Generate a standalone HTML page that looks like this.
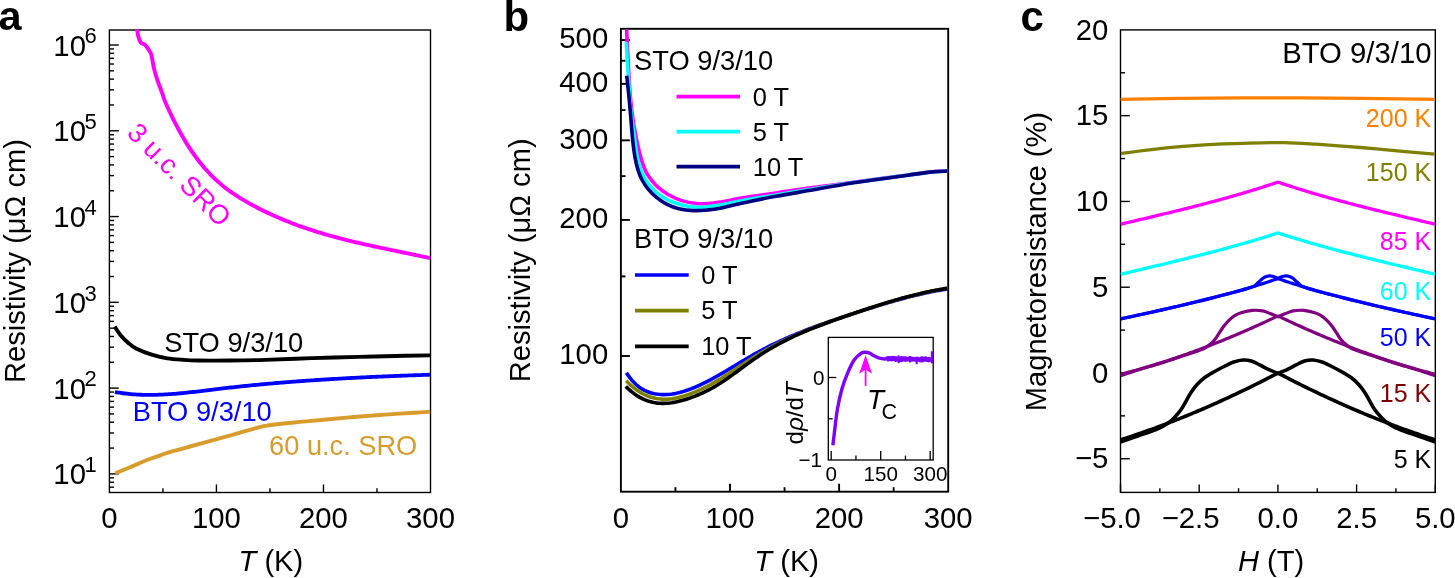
<!DOCTYPE html>
<html><head><meta charset="utf-8"><title>Figure</title>
<style>html,body{margin:0;padding:0;background:#fff;width:1455px;height:578px;overflow:hidden}
svg{display:block;font-family:"Liberation Sans",sans-serif;will-change:transform}</style></head>
<body>
<svg width="1455" height="578" viewBox="0 0 1455 578" font-family="Liberation Sans, sans-serif"><rect x="109.4" y="30" width="321.1" height="462.5" fill="none" stroke="#000" stroke-width="1.4"/>
<line x1="109.4" y1="487.19" x2="114" y2="487.19" stroke="#000" stroke-width="1.4"/>
<line x1="109.4" y1="482.21" x2="114" y2="482.21" stroke="#000" stroke-width="1.4"/>
<line x1="109.4" y1="477.83" x2="114" y2="477.83" stroke="#000" stroke-width="1.4"/>
<line x1="109.4" y1="473.9" x2="118.8" y2="473.9" stroke="#000" stroke-width="1.4"/>
<line x1="109.4" y1="448.08" x2="114" y2="448.08" stroke="#000" stroke-width="1.4"/>
<line x1="109.4" y1="432.97" x2="114" y2="432.97" stroke="#000" stroke-width="1.4"/>
<line x1="109.4" y1="422.26" x2="114" y2="422.26" stroke="#000" stroke-width="1.4"/>
<line x1="109.4" y1="413.94" x2="114" y2="413.94" stroke="#000" stroke-width="1.4"/>
<line x1="109.4" y1="407.15" x2="114" y2="407.15" stroke="#000" stroke-width="1.4"/>
<line x1="109.4" y1="401.41" x2="114" y2="401.41" stroke="#000" stroke-width="1.4"/>
<line x1="109.4" y1="396.43" x2="114" y2="396.43" stroke="#000" stroke-width="1.4"/>
<line x1="109.4" y1="392.05" x2="114" y2="392.05" stroke="#000" stroke-width="1.4"/>
<line x1="109.4" y1="388.12" x2="118.8" y2="388.12" stroke="#000" stroke-width="1.4"/>
<line x1="109.4" y1="362.3" x2="114" y2="362.3" stroke="#000" stroke-width="1.4"/>
<line x1="109.4" y1="347.19" x2="114" y2="347.19" stroke="#000" stroke-width="1.4"/>
<line x1="109.4" y1="336.48" x2="114" y2="336.48" stroke="#000" stroke-width="1.4"/>
<line x1="109.4" y1="328.16" x2="114" y2="328.16" stroke="#000" stroke-width="1.4"/>
<line x1="109.4" y1="321.37" x2="114" y2="321.37" stroke="#000" stroke-width="1.4"/>
<line x1="109.4" y1="315.63" x2="114" y2="315.63" stroke="#000" stroke-width="1.4"/>
<line x1="109.4" y1="310.65" x2="114" y2="310.65" stroke="#000" stroke-width="1.4"/>
<line x1="109.4" y1="306.27" x2="114" y2="306.27" stroke="#000" stroke-width="1.4"/>
<line x1="109.4" y1="302.34" x2="118.8" y2="302.34" stroke="#000" stroke-width="1.4"/>
<line x1="109.4" y1="276.52" x2="114" y2="276.52" stroke="#000" stroke-width="1.4"/>
<line x1="109.4" y1="261.41" x2="114" y2="261.41" stroke="#000" stroke-width="1.4"/>
<line x1="109.4" y1="250.7" x2="114" y2="250.7" stroke="#000" stroke-width="1.4"/>
<line x1="109.4" y1="242.38" x2="114" y2="242.38" stroke="#000" stroke-width="1.4"/>
<line x1="109.4" y1="235.59" x2="114" y2="235.59" stroke="#000" stroke-width="1.4"/>
<line x1="109.4" y1="229.85" x2="114" y2="229.85" stroke="#000" stroke-width="1.4"/>
<line x1="109.4" y1="224.87" x2="114" y2="224.87" stroke="#000" stroke-width="1.4"/>
<line x1="109.4" y1="220.49" x2="114" y2="220.49" stroke="#000" stroke-width="1.4"/>
<line x1="109.4" y1="216.56" x2="118.8" y2="216.56" stroke="#000" stroke-width="1.4"/>
<line x1="109.4" y1="190.74" x2="114" y2="190.74" stroke="#000" stroke-width="1.4"/>
<line x1="109.4" y1="175.63" x2="114" y2="175.63" stroke="#000" stroke-width="1.4"/>
<line x1="109.4" y1="164.92" x2="114" y2="164.92" stroke="#000" stroke-width="1.4"/>
<line x1="109.4" y1="156.6" x2="114" y2="156.6" stroke="#000" stroke-width="1.4"/>
<line x1="109.4" y1="149.81" x2="114" y2="149.81" stroke="#000" stroke-width="1.4"/>
<line x1="109.4" y1="144.07" x2="114" y2="144.07" stroke="#000" stroke-width="1.4"/>
<line x1="109.4" y1="139.09" x2="114" y2="139.09" stroke="#000" stroke-width="1.4"/>
<line x1="109.4" y1="134.71" x2="114" y2="134.71" stroke="#000" stroke-width="1.4"/>
<line x1="109.4" y1="130.78" x2="118.8" y2="130.78" stroke="#000" stroke-width="1.4"/>
<line x1="109.4" y1="104.96" x2="114" y2="104.96" stroke="#000" stroke-width="1.4"/>
<line x1="109.4" y1="89.85" x2="114" y2="89.85" stroke="#000" stroke-width="1.4"/>
<line x1="109.4" y1="79.14" x2="114" y2="79.14" stroke="#000" stroke-width="1.4"/>
<line x1="109.4" y1="70.82" x2="114" y2="70.82" stroke="#000" stroke-width="1.4"/>
<line x1="109.4" y1="64.03" x2="114" y2="64.03" stroke="#000" stroke-width="1.4"/>
<line x1="109.4" y1="58.29" x2="114" y2="58.29" stroke="#000" stroke-width="1.4"/>
<line x1="109.4" y1="53.31" x2="114" y2="53.31" stroke="#000" stroke-width="1.4"/>
<line x1="109.4" y1="48.93" x2="114" y2="48.93" stroke="#000" stroke-width="1.4"/>
<line x1="109.4" y1="45" x2="118.8" y2="45" stroke="#000" stroke-width="1.4"/>
<line x1="162.92" y1="492.5" x2="162.92" y2="488.3" stroke="#000" stroke-width="1.4"/>
<line x1="216.43" y1="492.5" x2="216.43" y2="484.5" stroke="#000" stroke-width="1.4"/>
<line x1="269.95" y1="492.5" x2="269.95" y2="488.3" stroke="#000" stroke-width="1.4"/>
<line x1="323.47" y1="492.5" x2="323.47" y2="484.5" stroke="#000" stroke-width="1.4"/>
<line x1="376.98" y1="492.5" x2="376.98" y2="488.3" stroke="#000" stroke-width="1.4"/>
<text x="85.95" y="484.4" font-size="29.3" fill="#000" text-anchor="end" >10</text>
<text x="84.5" y="472.2" font-size="22" fill="#000" text-anchor="start" >1</text>
<text x="85.95" y="398.62" font-size="29.3" fill="#000" text-anchor="end" >10</text>
<text x="84.5" y="386.42" font-size="22" fill="#000" text-anchor="start" >2</text>
<text x="85.95" y="312.84" font-size="29.3" fill="#000" text-anchor="end" >10</text>
<text x="84.5" y="300.64" font-size="22" fill="#000" text-anchor="start" >3</text>
<text x="85.95" y="227.06" font-size="29.3" fill="#000" text-anchor="end" >10</text>
<text x="84.5" y="214.86" font-size="22" fill="#000" text-anchor="start" >4</text>
<text x="85.95" y="141.28" font-size="29.3" fill="#000" text-anchor="end" >10</text>
<text x="84.5" y="129.08" font-size="22" fill="#000" text-anchor="start" >5</text>
<text x="85.95" y="55.5" font-size="29.3" fill="#000" text-anchor="end" >10</text>
<text x="84.5" y="43.3" font-size="22" fill="#000" text-anchor="start" >6</text>
<text x="109.4" y="527.8" font-size="29.3" fill="#000" text-anchor="middle" >0</text>
<text x="216.43" y="527.8" font-size="29.3" fill="#000" text-anchor="middle" >100</text>
<text x="323.47" y="527.8" font-size="29.3" fill="#000" text-anchor="middle" >200</text>
<text x="430.5" y="527.8" font-size="29.3" fill="#000" text-anchor="middle" >300</text>
<text x="270.9" y="570.5" font-size="29.1" text-anchor="middle" ><tspan font-style="italic">T</tspan> (K)</text>
<text transform="translate(24.7,261) rotate(-90)" font-size="29.1" text-anchor="middle">Resistivity (μΩ cm)</text>
<text x="-1.4" y="29.8" font-size="41.5" font-weight="bold">a</text>
<path d="M137,29.3 C137.22,30.48 137.67,34.17 138.3,36.4 C138.93,38.63 139.7,41.32 140.8,42.7 C141.9,44.08 143.68,43.67 144.9,44.7 C146.12,45.73 147.05,47.33 148.1,48.9 C149.15,50.47 150.42,51.85 151.2,54.1 C151.98,56.35 152.28,59.8 152.8,62.4 C153.32,65 153.53,66.75 154.3,69.7 C155.07,72.65 156.18,76.47 157.4,80.1 C158.62,83.73 160.37,88.04 161.6,91.5 C162.83,94.96 163.77,98.17 164.8,100.86 C165.83,103.56 166.8,105.46 167.8,107.68 C168.8,109.89 169.8,112.06 170.8,114.17 C171.8,116.28 172.8,118.33 173.8,120.34 C174.8,122.35 175.8,124.31 176.8,126.22 C177.8,128.13 178.8,129.99 179.8,131.8 C180.8,133.61 181.8,135.38 182.8,137.1 C183.8,138.82 184.8,140.49 185.8,142.12 C186.8,143.76 187.8,145.34 188.8,146.89 C189.8,148.44 190.8,149.94 191.8,151.4 C192.8,152.87 193.8,154.29 194.8,155.68 C195.8,157.06 196.8,158.41 197.8,159.72 C198.8,161.03 199.8,162.3 200.8,163.54 C201.8,164.78 202.8,165.98 203.8,167.15 C204.8,168.32 205.8,169.46 206.8,170.56 C207.8,171.67 208.8,172.74 209.8,173.78 C210.8,174.83 211.8,175.84 212.8,176.83 C213.8,177.81 214.8,178.77 215.8,179.7 C216.8,180.63 217.8,181.53 218.8,182.41 C219.8,183.29 220.8,184.15 221.8,184.98 C222.8,185.81 223.8,186.62 224.8,187.41 C225.8,188.2 226.8,188.96 227.8,189.71 C228.8,190.45 229.8,191.18 230.8,191.89 C231.8,192.6 232.8,193.29 233.8,193.96 C234.8,194.64 235.8,195.3 236.8,195.94 C237.8,196.59 238.8,197.21 239.8,197.83 C240.8,198.45 241.8,199.05 242.8,199.65 C243.8,200.24 244.8,200.82 245.8,201.4 C246.8,201.97 247.8,202.53 248.8,203.09 C249.8,203.64 250.8,204.19 251.8,204.73 C252.8,205.28 253.8,205.81 254.8,206.34 C255.8,206.87 256.8,207.39 257.8,207.91 C258.8,208.42 259.8,208.93 260.8,209.43 C261.8,209.93 262.8,210.43 263.8,210.92 C264.8,211.41 265.8,211.89 266.8,212.37 C267.8,212.85 268.8,213.32 269.8,213.78 C270.8,214.25 271.8,214.71 272.8,215.16 C273.8,215.61 274.8,216.06 275.8,216.5 C276.8,216.94 277.8,217.38 278.8,217.81 C279.8,218.24 280.8,218.66 281.8,219.08 C282.8,219.5 283.8,219.92 284.8,220.33 C285.8,220.73 286.8,221.14 287.8,221.54 C288.8,221.93 289.8,222.33 290.8,222.71 C291.8,223.1 292.8,223.49 293.8,223.86 C294.8,224.24 295.8,224.61 296.8,224.98 C297.8,225.35 298.8,225.72 299.8,226.07 C300.8,226.43 301.8,226.79 302.8,227.14 C303.8,227.49 304.8,227.83 305.8,228.17 C306.8,228.52 307.8,228.85 308.8,229.18 C309.8,229.52 310.8,229.85 311.8,230.17 C312.8,230.49 313.8,230.81 314.8,231.13 C315.8,231.45 316.8,231.76 317.8,232.07 C318.8,232.38 319.8,232.68 320.8,232.98 C321.8,233.29 322.8,233.58 323.8,233.88 C324.8,234.17 325.8,234.46 326.8,234.75 C327.8,235.04 328.8,235.32 329.8,235.6 C330.8,235.88 331.8,236.16 332.8,236.43 C333.8,236.71 334.8,236.98 335.8,237.25 C336.8,237.52 337.8,237.78 338.8,238.05 C339.8,238.31 340.8,238.57 341.8,238.83 C342.8,239.08 343.8,239.34 344.8,239.59 C345.8,239.84 346.8,240.09 347.8,240.34 C348.8,240.59 349.8,240.83 350.8,241.07 C351.8,241.31 352.8,241.56 353.8,241.79 C354.8,242.03 355.8,242.27 356.8,242.5 C357.8,242.74 358.8,242.97 359.8,243.2 C360.8,243.43 361.8,243.66 362.8,243.88 C363.8,244.11 364.8,244.34 365.8,244.56 C366.8,244.78 367.8,245 368.8,245.22 C369.8,245.45 370.8,245.66 371.8,245.88 C372.8,246.1 373.8,246.32 374.8,246.53 C375.8,246.75 376.8,246.96 377.8,247.17 C378.8,247.39 379.8,247.6 380.8,247.81 C381.8,248.02 382.8,248.23 383.8,248.44 C384.8,248.65 385.8,248.86 386.8,249.07 C387.8,249.28 388.8,249.49 389.8,249.69 C390.8,249.9 391.8,250.11 392.8,250.32 C393.8,250.52 394.8,250.73 395.8,250.94 C396.8,251.14 397.8,251.35 398.8,251.55 C399.8,251.76 400.8,251.97 401.8,252.17 C402.8,252.38 403.8,252.58 404.8,252.79 C405.8,253 406.8,253.2 407.8,253.41 C408.8,253.62 409.8,253.83 410.8,254.03 C411.8,254.24 412.8,254.45 413.8,254.66 C414.8,254.87 415.8,255.08 416.8,255.29 C417.8,255.5 418.8,255.71 419.8,255.93 C420.8,256.14 421.8,256.35 422.8,256.57 C423.8,256.78 424.8,257 425.8,257.21 C426.8,257.43 428.07,257.71 428.8,257.87 C429.53,258.03 429.97,258.12 430.2,258.17" fill="none" stroke="#FF00FF" stroke-width="3.9" stroke-linejoin="round" stroke-linecap="butt" />
<path d="M114.7,326.7 C115.68,328.12 118.32,332.48 120.6,335.2 C122.88,337.92 125.82,340.78 128.4,343 C130.98,345.22 132.22,346.55 136.1,348.5 C139.98,350.45 146.5,353.07 151.7,354.7 C156.9,356.33 162.12,357.45 167.3,358.3 C172.48,359.15 177.62,359.43 182.8,359.8 C187.98,360.17 190.62,360.38 198.4,360.5 C206.18,360.62 218.4,360.6 229.5,360.5 C240.6,360.4 251.3,360.3 265,359.9 C278.7,359.5 296.12,358.6 311.7,358.1 C327.28,357.6 342.92,357.28 358.5,356.9 C374.08,356.52 393.25,356.05 405.2,355.8 C417.15,355.55 426.03,355.47 430.2,355.4" fill="none" stroke="#000" stroke-width="3.9" stroke-linejoin="round" stroke-linecap="butt" />
<path d="M114.9,392.01 L116.9,392.35 L118.9,392.68 L120.9,392.97 L122.9,393.25 L124.9,393.5 L126.9,393.73 L128.9,393.93 L130.9,394.12 L132.9,394.28 L134.9,394.42 L136.9,394.55 L138.9,394.65 L140.9,394.73 L142.9,394.8 L144.9,394.85 L146.9,394.88 L148.9,394.89 L150.9,394.89 L152.9,394.87 L154.9,394.83 L156.9,394.79 L158.9,394.72 L160.9,394.65 L162.9,394.56 L164.9,394.45 L166.9,394.34 L168.9,394.21 L170.9,394.08 L172.9,393.93 L174.9,393.77 L176.9,393.61 L178.9,393.43 L180.9,393.25 L182.9,393.06 L184.9,392.86 L186.9,392.65 L188.9,392.44 L190.9,392.22 L192.9,392 L194.9,391.77 L196.9,391.54 L198.9,391.31 L200.9,391.07 L202.9,390.83 L204.9,390.59 L206.9,390.35 L208.9,390.1 L210.9,389.86 L212.9,389.62 L214.9,389.37 L216.9,389.13 L218.9,388.89 L220.9,388.65 L222.9,388.42 L224.9,388.19 L226.9,387.96 L228.9,387.73 L230.9,387.5 L232.9,387.28 L234.9,387.06 L236.9,386.85 L238.9,386.63 L240.9,386.42 L242.9,386.21 L244.9,386 L246.9,385.8 L248.9,385.6 L250.9,385.4 L252.9,385.2 L254.9,385 L256.9,384.81 L258.9,384.62 L260.9,384.43 L262.9,384.25 L264.9,384.06 L266.9,383.88 L268.9,383.7 L270.9,383.53 L272.9,383.35 L274.9,383.18 L276.9,383.01 L278.9,382.84 L280.9,382.67 L282.9,382.51 L284.9,382.35 L286.9,382.19 L288.9,382.03 L290.9,381.87 L292.9,381.72 L294.9,381.57 L296.9,381.41 L298.9,381.27 L300.9,381.12 L302.9,380.98 L304.9,380.83 L306.9,380.69 L308.9,380.55 L310.9,380.41 L312.9,380.28 L314.9,380.14 L316.9,380.01 L318.9,379.88 L320.9,379.75 L322.9,379.63 L324.9,379.5 L326.9,379.38 L328.9,379.25 L330.9,379.13 L332.9,379.01 L334.9,378.9 L336.9,378.78 L338.9,378.67 L340.9,378.55 L342.9,378.44 L344.9,378.33 L346.9,378.22 L348.9,378.12 L350.9,378.01 L352.9,377.91 L354.9,377.8 L356.9,377.7 L358.9,377.6 L360.9,377.5 L362.9,377.4 L364.9,377.31 L366.9,377.21 L368.9,377.12 L370.9,377.02 L372.9,376.93 L374.9,376.84 L376.9,376.75 L378.9,376.66 L380.9,376.58 L382.9,376.49 L384.9,376.41 L386.9,376.32 L388.9,376.24 L390.9,376.16 L392.9,376.07 L394.9,375.99 L396.9,375.91 L398.9,375.84 L400.9,375.76 L402.9,375.68 L404.9,375.61 L406.9,375.53 L408.9,375.46 L410.9,375.38 L412.9,375.31 L414.9,375.24 L416.9,375.17 L418.9,375.1 L420.9,375.03 L422.9,374.96 L424.9,374.89 L426.9,374.82 L428.9,374.76 L430.2,374.71" fill="none" stroke="#0000FF" stroke-width="3.8" stroke-linejoin="round" stroke-linecap="butt" />
<path d="M115.2,473.2 C117.28,472.37 123.73,469.83 127.7,468.2 C131.67,466.57 135.22,464.97 139,463.4 C142.78,461.83 146.62,460.23 150.4,458.8 C154.18,457.37 157.93,456.07 161.7,454.8 C165.47,453.53 168.28,452.58 173,451.2 C177.72,449.82 184.33,448.05 190,446.5 C195.67,444.95 201.33,443.45 207,441.9 C212.67,440.35 218.33,438.78 224,437.2 C229.67,435.62 235.83,433.87 241,432.4 C246.17,430.93 251.58,429.37 255,428.4 C258.42,427.43 259.5,427.07 261.5,426.6 C263.5,426.13 264.75,425.95 267,425.6 C269.25,425.25 270.83,424.98 275,424.5 C279.17,424.02 286.33,423.27 292,422.7 C297.67,422.13 302.38,421.72 309,421.1 C315.62,420.48 324.13,419.68 331.7,419 C339.27,418.32 346.83,417.63 354.4,417 C361.97,416.37 369.53,415.77 377.1,415.2 C384.67,414.63 393.48,414.02 399.8,413.6 C406.12,413.18 409.93,413 415,412.7 C420.07,412.4 427.67,411.95 430.2,411.8" fill="none" stroke="#D89C2C" stroke-width="3.9" stroke-linejoin="round" stroke-linecap="butt" />
<text x="164.2" y="351.5" font-size="27.3" fill="#000" text-anchor="start" >STO 9/3/10</text>
<text x="132.7" y="420.5" font-size="27.3" fill="#0000FF" text-anchor="start" >BTO 9/3/10</text>
<text x="269.1" y="454.8" font-size="27.2" fill="#D89C2C" text-anchor="start" >60 u.c. SRO</text>
<text transform="translate(125.7,134.2) rotate(45)" font-size="27.2" fill="#FF00FF">3 u.c. SRO</text>
<rect x="620.9" y="28.8" width="327.3" height="462.9" fill="none" stroke="#000" stroke-width="1.9"/>
<line x1="620.9" y1="356" x2="629.9" y2="356" stroke="#000" stroke-width="1.9"/>
<line x1="620.9" y1="276.41" x2="625.5" y2="276.41" stroke="#000" stroke-width="1.9"/>
<line x1="620.9" y1="219.93" x2="629.9" y2="219.93" stroke="#000" stroke-width="1.9"/>
<line x1="620.9" y1="176.13" x2="625.5" y2="176.13" stroke="#000" stroke-width="1.9"/>
<line x1="620.9" y1="140.34" x2="629.9" y2="140.34" stroke="#000" stroke-width="1.9"/>
<line x1="620.9" y1="110.08" x2="625.5" y2="110.08" stroke="#000" stroke-width="1.9"/>
<line x1="620.9" y1="83.87" x2="629.9" y2="83.87" stroke="#000" stroke-width="1.9"/>
<line x1="620.9" y1="60.75" x2="625.5" y2="60.75" stroke="#000" stroke-width="1.9"/>
<line x1="620.9" y1="40.07" x2="629.9" y2="40.07" stroke="#000" stroke-width="1.9"/>
<line x1="675.45" y1="491.7" x2="675.45" y2="487.2" stroke="#000" stroke-width="1.9"/>
<line x1="730" y1="491.7" x2="730" y2="483.7" stroke="#000" stroke-width="1.9"/>
<line x1="784.55" y1="491.7" x2="784.55" y2="487.2" stroke="#000" stroke-width="1.9"/>
<line x1="839.1" y1="491.7" x2="839.1" y2="483.7" stroke="#000" stroke-width="1.9"/>
<line x1="893.65" y1="491.7" x2="893.65" y2="487.2" stroke="#000" stroke-width="1.9"/>
<text x="608.2" y="364.4" font-size="29.3" fill="#000" text-anchor="end" >100</text>
<text x="608.2" y="228.33" font-size="29.3" fill="#000" text-anchor="end" >200</text>
<text x="608.2" y="148.74" font-size="29.3" fill="#000" text-anchor="end" >300</text>
<text x="608.2" y="92.27" font-size="29.3" fill="#000" text-anchor="end" >400</text>
<text x="608.2" y="48.47" font-size="29.3" fill="#000" text-anchor="end" >500</text>
<text x="620.9" y="527.8" font-size="29.3" fill="#000" text-anchor="middle" >0</text>
<text x="730" y="527.8" font-size="29.3" fill="#000" text-anchor="middle" >100</text>
<text x="839.1" y="527.8" font-size="29.3" fill="#000" text-anchor="middle" >200</text>
<text x="948.2" y="527.8" font-size="29.3" fill="#000" text-anchor="middle" >300</text>
<text x="786.7" y="570.5" font-size="29.1" text-anchor="middle"><tspan font-style="italic">T</tspan> (K)</text>
<text transform="translate(529.7,260.3) rotate(-90)" font-size="29.1" text-anchor="middle">Resistivity (μΩ cm)</text>
<text x="503.6" y="30.8" font-size="42" font-weight="bold">b</text>
<path d="M626.6,29.6 C626.72,32.17 626.97,38.27 627.3,45 C627.63,51.73 628.12,61.67 628.6,70 C629.08,78.33 629.63,88 630.2,95 C630.77,102 631.38,106.95 632,112 C632.62,117.05 632.97,119.85 633.9,125.3 C634.83,130.75 636.37,139.02 637.6,144.7 C638.83,150.38 639.95,154.98 641.3,159.4 C642.65,163.82 644.1,167.88 645.7,171.2 C647.3,174.52 648.82,176.6 650.9,179.3 C652.98,182 655.27,184.83 658.2,187.4 C661.13,189.97 664.57,192.5 668.5,194.7 C672.43,196.9 677.13,199.13 681.8,200.6 C686.47,202.07 692.1,203.02 696.5,203.5 C700.9,203.98 704.28,203.73 708.2,203.5 C712.12,203.27 714.2,203.03 720,202.1 C725.8,201.17 733.67,199.42 743,197.9 C752.33,196.38 765,194.65 776,193 C787,191.35 798,189.53 809,188 C820,186.47 831,185.23 842,183.8 C853,182.37 864.02,180.87 875,179.4 C885.98,177.93 898.28,176.27 907.9,175 C917.52,173.73 926.13,172.45 932.7,171.8 C939.27,171.15 944.87,171.22 947.3,171.1" fill="none" stroke="#FF00FF" stroke-width="3.6" stroke-linejoin="round" stroke-linecap="butt" />
<path d="M626.3,42 C626.45,45 626.77,52.97 627.2,60 C627.63,67.03 628.33,76.13 628.9,84.2 C629.47,92.27 629.82,100.6 630.6,108.4 C631.38,116.2 632.8,124.95 633.6,131 C634.4,137.05 634.73,139.97 635.4,144.7 C636.07,149.43 636.62,154.98 637.6,159.4 C638.58,163.82 639.95,167.77 641.3,171.2 C642.65,174.63 643.85,177.07 645.7,180 C647.55,182.93 649.58,185.98 652.4,188.8 C655.22,191.62 658.93,194.57 662.6,196.9 C666.27,199.23 669.98,201.2 674.4,202.8 C678.82,204.4 684.43,205.77 689.1,206.5 C693.77,207.23 697.25,207.45 702.4,207.2 C707.55,206.95 713.23,206.13 720,205 C726.77,203.87 733.67,202.07 743,200.4 C752.33,198.73 765,196.82 776,195 C787,193.18 798,191.3 809,189.5 C820,187.7 831,185.85 842,184.2 C853,182.55 864.02,181.12 875,179.6 C885.98,178.08 898.28,176.38 907.9,175.1 C917.52,173.82 926.13,172.57 932.7,171.9 C939.27,171.23 944.87,171.23 947.3,171.1" fill="none" stroke="#00FFFF" stroke-width="3.6" stroke-linejoin="round" stroke-linecap="butt" />
<path d="M626.7,75.7 C627.07,79.13 628.25,89.75 628.9,96.3 C629.55,102.85 630.12,109.38 630.6,115 C631.08,120.62 631.37,125.05 631.8,130 C632.23,134.95 632.6,139.8 633.2,144.7 C633.8,149.6 634.53,154.98 635.4,159.4 C636.27,163.82 637.28,167.77 638.4,171.2 C639.52,174.63 640.52,177.07 642.1,180 C643.68,182.93 645.45,185.87 647.9,188.8 C650.35,191.73 653.6,195.02 656.8,197.6 C660,200.18 663.43,202.45 667.1,204.3 C670.77,206.15 674.4,207.65 678.8,208.7 C683.2,209.75 688.6,210.4 693.5,210.6 C698.4,210.8 703.78,210.3 708.2,209.9 C712.62,209.5 714.2,209.37 720,208.2 C725.8,207.03 733.67,204.88 743,202.9 C752.33,200.92 765,198.37 776,196.3 C787,194.23 798,192.43 809,190.5 C820,188.57 831,186.48 842,184.7 C853,182.92 864.02,181.38 875,179.8 C885.98,178.22 898.28,176.52 907.9,175.2 C917.52,173.88 926.13,172.58 932.7,171.9 C939.27,171.22 944.87,171.23 947.3,171.1" fill="none" stroke="#000080" stroke-width="3.6" stroke-linejoin="round" stroke-linecap="butt" />
<path d="M626.4,372.73 L628.4,375.68 L630.4,378.35 L632.4,380.75 L634.4,382.89 L636.4,384.79 L638.4,386.46 L640.4,387.93 L642.4,389.2 L644.4,390.3 L646.4,391.24 L648.4,392.03 L650.4,392.69 L652.4,393.24 L654.4,393.69 L656.4,394.04 L658.4,394.31 L660.4,394.5 L662.4,394.6 L664.4,394.62 L666.4,394.57 L668.4,394.44 L670.4,394.24 L672.4,393.98 L674.4,393.65 L676.4,393.26 L678.4,392.81 L680.4,392.31 L682.4,391.76 L684.4,391.15 L686.4,390.5 L688.4,389.81 L690.4,389.07 L692.4,388.3 L694.4,387.48 L696.4,386.64 L698.4,385.75 L700.4,384.84 L702.4,383.89 L704.4,382.91 L706.4,381.91 L708.4,380.88 L710.4,379.82 L712.4,378.75 L714.4,377.65 L716.4,376.54 L718.4,375.4 L720.4,374.26 L722.4,373.1 L724.4,371.93 L726.4,370.74 L728.4,369.55 L730.4,368.36 L732.4,367.16 L734.4,365.96 L736.4,364.75 L738.4,363.55 L740.4,362.35 L742.4,361.15 L744.4,359.96 L746.4,358.78 L748.4,357.61 L750.4,356.45 L752.4,355.3 L754.4,354.17 L756.4,353.06 L758.4,351.96 L760.4,350.88 L762.4,349.81 L764.4,348.77 L766.4,347.74 L768.4,346.72 L770.4,345.72 L772.4,344.74 L774.4,343.77 L776.4,342.82 L778.4,341.88 L780.4,340.95 L782.4,340.04 L784.4,339.14 L786.4,338.25 L788.4,337.38 L790.4,336.52 L792.4,335.67 L794.4,334.83 L796.4,334 L798.4,333.18 L800.4,332.38 L802.4,331.58 L804.4,330.79 L806.4,330.01 L808.4,329.25 L810.4,328.49 L812.4,327.73 L814.4,326.99 L816.4,326.26 L818.4,325.53 L820.4,324.8 L822.4,324.09 L824.4,323.38 L826.4,322.68 L828.4,321.98 L830.4,321.29 L832.4,320.6 L834.4,319.92 L836.4,319.24 L838.4,318.56 L840.4,317.89 L842.4,317.22 L844.4,316.55 L846.4,315.89 L848.4,315.23 L850.4,314.57 L852.4,313.91 L854.4,313.25 L856.4,312.6 L858.4,311.95 L860.4,311.3 L862.4,310.65 L864.4,310.01 L866.4,309.37 L868.4,308.73 L870.4,308.1 L872.4,307.47 L874.4,306.85 L876.4,306.23 L878.4,305.61 L880.4,305 L882.4,304.4 L884.4,303.8 L886.4,303.2 L888.4,302.62 L890.4,302.03 L892.4,301.46 L894.4,300.89 L896.4,300.33 L898.4,299.77 L900.4,299.22 L902.4,298.68 L904.4,298.15 L906.4,297.62 L908.4,297.11 L910.4,296.6 L912.4,296.1 L914.4,295.6 L916.4,295.12 L918.4,294.65 L920.4,294.18 L922.4,293.73 L924.4,293.29 L926.4,292.85 L928.4,292.43 L930.4,292.02 L932.4,291.61 L934.4,291.22 L936.4,290.84 L938.4,290.47 L940.4,290.12 L942.4,289.77 L944.4,289.44 L946.4,289.12 L947.3,288.98" fill="none" stroke="#0000FF" stroke-width="3.6" stroke-linejoin="round" stroke-linecap="butt" />
<path d="M626.2,380.7 L628.2,382.77 L630.2,384.69 L632.2,386.47 L634.2,388.13 L636.2,389.65 L638.2,391.05 L640.2,392.32 L642.2,393.48 L644.2,394.51 L646.2,395.44 L648.2,396.25 L650.2,396.96 L652.2,397.56 L654.2,398.07 L656.2,398.48 L658.2,398.79 L660.2,399.02 L662.2,399.16 L664.2,399.21 L666.2,399.19 L668.2,399.09 L670.2,398.92 L672.2,398.68 L674.2,398.37 L676.2,398 L678.2,397.57 L680.2,397.09 L682.2,396.55 L684.2,395.97 L686.2,395.33 L688.2,394.66 L690.2,393.94 L692.2,393.18 L694.2,392.39 L696.2,391.55 L698.2,390.68 L700.2,389.77 L702.2,388.83 L704.2,387.85 L706.2,386.84 L708.2,385.8 L710.2,384.73 L712.2,383.62 L714.2,382.49 L716.2,381.34 L718.2,380.15 L720.2,378.95 L722.2,377.72 L724.2,376.46 L726.2,375.2 L728.2,373.91 L730.2,372.61 L732.2,371.31 L734.2,369.99 L736.2,368.67 L738.2,367.35 L740.2,366.02 L742.2,364.7 L744.2,363.38 L746.2,362.07 L748.2,360.77 L750.2,359.48 L752.2,358.21 L754.2,356.95 L756.2,355.72 L758.2,354.5 L760.2,353.31 L762.2,352.14 L764.2,350.98 L766.2,349.85 L768.2,348.74 L770.2,347.64 L772.2,346.56 L774.2,345.51 L776.2,344.46 L778.2,343.44 L780.2,342.43 L782.2,341.44 L784.2,340.47 L786.2,339.51 L788.2,338.57 L790.2,337.64 L792.2,336.73 L794.2,335.83 L796.2,334.94 L798.2,334.07 L800.2,333.2 L802.2,332.36 L804.2,331.52 L806.2,330.69 L808.2,329.88 L810.2,329.07 L812.2,328.28 L814.2,327.5 L816.2,326.72 L818.2,325.95 L820.2,325.2 L822.2,324.45 L824.2,323.71 L826.2,322.97 L828.2,322.24 L830.2,321.52 L832.2,320.81 L834.2,320.1 L836.2,319.39 L838.2,318.69 L840.2,318 L842.2,317.3 L844.2,316.61 L846.2,315.93 L848.2,315.25 L850.2,314.57 L852.2,313.89 L854.2,313.21 L856.2,312.54 L858.2,311.87 L860.2,311.2 L862.2,310.53 L864.2,309.87 L866.2,309.22 L868.2,308.56 L870.2,307.91 L872.2,307.27 L874.2,306.63 L876.2,305.99 L878.2,305.36 L880.2,304.74 L882.2,304.12 L884.2,303.5 L886.2,302.89 L888.2,302.29 L890.2,301.69 L892.2,301.11 L894.2,300.52 L896.2,299.95 L898.2,299.38 L900.2,298.82 L902.2,298.27 L904.2,297.72 L906.2,297.18 L908.2,296.65 L910.2,296.13 L912.2,295.62 L914.2,295.12 L916.2,294.63 L918.2,294.14 L920.2,293.67 L922.2,293.2 L924.2,292.75 L926.2,292.31 L928.2,291.87 L930.2,291.45 L932.2,291.04 L934.2,290.64 L936.2,290.25 L938.2,289.87 L940.2,289.51 L942.2,289.15 L944.2,288.81 L946.2,288.48 L947.3,288.31" fill="none" stroke="#808000" stroke-width="3.6" stroke-linejoin="round" stroke-linecap="butt" />
<path d="M625.8,386.41 L627.8,388.38 L629.8,390.2 L631.8,391.89 L633.8,393.44 L635.8,394.87 L637.8,396.17 L639.8,397.34 L641.8,398.4 L643.8,399.35 L645.8,400.19 L647.8,400.92 L649.8,401.54 L651.8,402.07 L653.8,402.51 L655.8,402.85 L657.8,403.1 L659.8,403.27 L661.8,403.36 L663.8,403.37 L665.8,403.31 L667.8,403.18 L669.8,402.98 L671.8,402.72 L673.8,402.4 L675.8,402.02 L677.8,401.59 L679.8,401.11 L681.8,400.59 L683.8,400.02 L685.8,399.42 L687.8,398.78 L689.8,398.1 L691.8,397.39 L693.8,396.65 L695.8,395.86 L697.8,395.04 L699.8,394.19 L701.8,393.3 L703.8,392.37 L705.8,391.4 L707.8,390.39 L709.8,389.35 L711.8,388.26 L713.8,387.14 L715.8,385.97 L717.8,384.77 L719.8,383.52 L721.8,382.24 L723.8,380.91 L725.8,379.56 L727.8,378.18 L729.8,376.77 L731.8,375.35 L733.8,373.9 L735.8,372.45 L737.8,370.98 L739.8,369.51 L741.8,368.04 L743.8,366.57 L745.8,365.1 L747.8,363.65 L749.8,362.2 L751.8,360.78 L753.8,359.37 L755.8,357.99 L757.8,356.64 L759.8,355.31 L761.8,354.02 L763.8,352.74 L765.8,351.5 L767.8,350.28 L769.8,349.08 L771.8,347.91 L773.8,346.76 L775.8,345.63 L777.8,344.53 L779.8,343.44 L781.8,342.38 L783.8,341.34 L785.8,340.32 L787.8,339.32 L789.8,338.33 L791.8,337.37 L793.8,336.42 L795.8,335.49 L797.8,334.58 L799.8,333.68 L801.8,332.8 L803.8,331.93 L805.8,331.08 L807.8,330.24 L809.8,329.42 L811.8,328.6 L813.8,327.8 L815.8,327.01 L817.8,326.23 L819.8,325.46 L821.8,324.7 L823.8,323.95 L825.8,323.21 L827.8,322.48 L829.8,321.75 L831.8,321.04 L833.8,320.32 L835.8,319.62 L837.8,318.92 L839.8,318.22 L841.8,317.53 L843.8,316.84 L845.8,316.15 L847.8,315.46 L849.8,314.78 L851.8,314.1 L853.8,313.42 L855.8,312.74 L857.8,312.07 L859.8,311.4 L861.8,310.73 L863.8,310.06 L865.8,309.4 L867.8,308.74 L869.8,308.08 L871.8,307.43 L873.8,306.78 L875.8,306.14 L877.8,305.5 L879.8,304.87 L881.8,304.24 L883.8,303.62 L885.8,303.01 L887.8,302.4 L889.8,301.79 L891.8,301.2 L893.8,300.61 L895.8,300.03 L897.8,299.45 L899.8,298.89 L901.8,298.33 L903.8,297.78 L905.8,297.23 L907.8,296.7 L909.8,296.18 L911.8,295.66 L913.8,295.16 L915.8,294.66 L917.8,294.18 L919.8,293.7 L921.8,293.24 L923.8,292.78 L925.8,292.34 L927.8,291.91 L929.8,291.49 L931.8,291.08 L933.8,290.69 L935.8,290.3 L937.8,289.93 L939.8,289.58 L941.8,289.23 L943.8,288.9 L945.8,288.59 L947.3,288.36" fill="none" stroke="#000" stroke-width="3.6" stroke-linejoin="round" stroke-linecap="butt" />
<text x="634.1" y="70.4" font-size="27.3" fill="#000" text-anchor="start" >STO 9/3/10</text>
<line x1="676.5" y1="96.6" x2="740" y2="96.6" stroke="#FF00FF" stroke-width="3.7"/>
<text x="752.8" y="105.6" font-size="25.4" fill="#000" text-anchor="start" >0 T</text>
<line x1="676.5" y1="131.6" x2="740" y2="131.6" stroke="#00FFFF" stroke-width="3.7"/>
<text x="752.8" y="140.6" font-size="25.4" fill="#000" text-anchor="start" >5 T</text>
<line x1="676.5" y1="166.6" x2="740" y2="166.6" stroke="#000080" stroke-width="3.7"/>
<text x="752.8" y="175.6" font-size="25.4" fill="#000" text-anchor="start" >10 T</text>
<text x="634.1" y="248" font-size="27.3" fill="#000" text-anchor="start" >BTO 9/3/10</text>
<line x1="635" y1="275" x2="688.7" y2="275" stroke="#0000FF" stroke-width="3.7"/>
<text x="701.2" y="283.7" font-size="25.4" fill="#000" text-anchor="start" >0 T</text>
<line x1="635" y1="310.65" x2="688.7" y2="310.65" stroke="#808000" stroke-width="3.7"/>
<text x="701.2" y="319.35" font-size="25.4" fill="#000" text-anchor="start" >5 T</text>
<line x1="635" y1="346.3" x2="688.7" y2="346.3" stroke="#000" stroke-width="3.7"/>
<text x="701.2" y="355" font-size="25.4" fill="#000" text-anchor="start" >10 T</text>
<rect x="828.3" y="337.4" width="104.9" height="122.6" fill="#fff" stroke="#000" stroke-width="1.3"/>
<line x1="831.2" y1="460" x2="831.2" y2="451" stroke="#000" stroke-width="1.3"/>
<line x1="855.95" y1="460" x2="855.95" y2="455.6" stroke="#000" stroke-width="1.3"/>
<line x1="880.7" y1="460" x2="880.7" y2="451" stroke="#000" stroke-width="1.3"/>
<line x1="905.45" y1="460" x2="905.45" y2="455.6" stroke="#000" stroke-width="1.3"/>
<line x1="930.2" y1="460" x2="930.2" y2="451" stroke="#000" stroke-width="1.3"/>
<line x1="828.3" y1="377.5" x2="836.3" y2="377.5" stroke="#000" stroke-width="1.3"/>
<line x1="828.3" y1="418.75" x2="832.7" y2="418.75" stroke="#000" stroke-width="1.3"/>
<text x="831.2" y="480.8" font-size="20.6" fill="#000" text-anchor="middle" >0</text>
<text x="880.7" y="480.8" font-size="20.6" fill="#000" text-anchor="middle" >150</text>
<text x="930.2" y="480.8" font-size="20.6" fill="#000" text-anchor="middle" >300</text>
<text x="824.5" y="384.8" font-size="20.6" fill="#000" text-anchor="end" >0</text>
<text x="822" y="466.5" font-size="20.6" fill="#000" text-anchor="end" >−1</text>
<text transform="translate(803.2,413.3) rotate(-90)" font-size="24.3" text-anchor="middle">d<tspan font-style="italic">ρ</tspan>/d<tspan font-style="italic">T</tspan></text>
<path d="M832.9,445.3 C833.17,443.05 833.75,437.8 834.5,431.8 C835.25,425.8 836.17,416.43 837.4,409.3 C838.63,402.17 840.22,395 841.9,389 C843.58,383 845.43,378.17 847.5,373.3 C849.57,368.43 852.05,363.13 854.3,359.8 C856.55,356.47 859.13,354.57 861,353.3 C862.87,352.03 864,352.2 865.5,352.2 C867,352.2 868.67,352.75 870,353.3 C871.33,353.85 872.2,354.78 873.5,355.5 C874.8,356.22 876.38,357.08 877.8,357.6 C879.22,358.12 880.63,358.37 882,358.6 C883.37,358.83 885.33,358.93 886,359" fill="none" stroke="#8000FF" stroke-width="3.4" stroke-linejoin="round" stroke-linecap="butt" />
<path d="M886,359 L886.7,358.65 L887.4,358.31 L888.1,359.32 L888.8,358.17 L889.5,359.1 L890.2,358.77 L890.9,358.16 L891.6,359.06 L892.3,358.13 L893,358.93 L893.7,358.21 L894.4,358.26 L895.1,358.93 L895.8,359.74 L896.5,358.34 L897.2,358.55 L897.9,359.36 L898.6,360.01 L899.3,359.27 L900,358.92 L900.7,360.08 L901.4,358.23 L902.1,359.86 L902.8,358.73 L903.5,358.44 L904.2,358.4 L904.9,358.78 L905.6,359.81 L906.3,358.54 L907,359.35 L907.7,359.47 L908.4,358.94 L909.1,359.3 L909.8,358.34 L910.5,358.34 L911.2,358.64 L911.9,359.59 L912.6,359.09 L913.3,358.87 L914,359.42 L914.7,359.16 L915.4,358.86 L916.1,359.86 L916.8,359.67 L917.5,358.77 L918.2,359.44 L918.9,359.34 L919.6,360.05 L920.3,359.76 L921,358.89 L921.7,360.28 L922.4,358.56 L923.1,359.17 L923.8,359.85 L924.5,358.65 L925.2,359.33 L925.9,358.43 L926.6,359.7 L927.3,359.9 L928,359.52 L928.7,360.13 L929.4,359.01 L930.1,359.78 L930.8,359.59 L931.5,359.56" fill="none" stroke="#8000FF" stroke-width="4.3" stroke-linejoin="round" stroke-linecap="butt" stroke-linecap="round"/>
<line x1="898.7" y1="355.3" x2="898.7" y2="363.2" stroke="#8000FF" stroke-width="2.0"/>
<line x1="916.7" y1="357.5" x2="916.7" y2="364.2" stroke="#8000FF" stroke-width="2.0"/>
<line x1="910" y1="356.5" x2="910" y2="362.5" stroke="#8000FF" stroke-width="2.0"/>
<line x1="931.9" y1="351.3" x2="931.9" y2="363.4" stroke="#8000FF" stroke-width="2.2"/>
<line x1="865.6" y1="386" x2="865.6" y2="362" stroke="#FF00FF" stroke-width="1.8"/>
<path d="M865.6,355 L872,373.8 L865.6,369.5 L859.2,373.8 Z" fill="#FF00FF"/>
<text x="867" y="409.3" font-size="27.8" font-style="italic">T</text>
<text x="881.5" y="419" font-size="21.5">C</text>
<rect x="1120.5" y="29.9" width="314.8" height="462.5" fill="none" stroke="#000" stroke-width="1.4"/>
<line x1="1120.5" y1="458.75" x2="1129.8" y2="458.75" stroke="#000" stroke-width="1.4"/>
<line x1="1120.5" y1="415.86" x2="1125.1" y2="415.86" stroke="#000" stroke-width="1.4"/>
<line x1="1120.5" y1="372.98" x2="1129.8" y2="372.98" stroke="#000" stroke-width="1.4"/>
<line x1="1120.5" y1="330.09" x2="1125.1" y2="330.09" stroke="#000" stroke-width="1.4"/>
<line x1="1120.5" y1="287.21" x2="1129.8" y2="287.21" stroke="#000" stroke-width="1.4"/>
<line x1="1120.5" y1="244.33" x2="1125.1" y2="244.33" stroke="#000" stroke-width="1.4"/>
<line x1="1120.5" y1="201.44" x2="1129.8" y2="201.44" stroke="#000" stroke-width="1.4"/>
<line x1="1120.5" y1="158.56" x2="1125.1" y2="158.56" stroke="#000" stroke-width="1.4"/>
<line x1="1120.5" y1="115.67" x2="1129.8" y2="115.67" stroke="#000" stroke-width="1.4"/>
<line x1="1120.5" y1="72.78" x2="1125.1" y2="72.78" stroke="#000" stroke-width="1.4"/>
<line x1="1120.5" y1="492.4" x2="1120.5" y2="484.4" stroke="#000" stroke-width="1.4"/>
<line x1="1159.85" y1="492.4" x2="1159.85" y2="488.2" stroke="#000" stroke-width="1.4"/>
<line x1="1199.2" y1="492.4" x2="1199.2" y2="484.4" stroke="#000" stroke-width="1.4"/>
<line x1="1238.55" y1="492.4" x2="1238.55" y2="488.2" stroke="#000" stroke-width="1.4"/>
<line x1="1277.9" y1="492.4" x2="1277.9" y2="484.4" stroke="#000" stroke-width="1.4"/>
<line x1="1317.25" y1="492.4" x2="1317.25" y2="488.2" stroke="#000" stroke-width="1.4"/>
<line x1="1356.6" y1="492.4" x2="1356.6" y2="484.4" stroke="#000" stroke-width="1.4"/>
<line x1="1395.95" y1="492.4" x2="1395.95" y2="488.2" stroke="#000" stroke-width="1.4"/>
<line x1="1435.3" y1="492.4" x2="1435.3" y2="484.4" stroke="#000" stroke-width="1.4"/>
<text x="1108.3" y="39.6" font-size="29.3" fill="#000" text-anchor="end" >20</text>
<text x="1108.3" y="125.37" font-size="29.3" fill="#000" text-anchor="end" >15</text>
<text x="1108.3" y="211.14" font-size="29.3" fill="#000" text-anchor="end" >10</text>
<text x="1108.3" y="296.91" font-size="29.3" fill="#000" text-anchor="end" >5</text>
<text x="1108.3" y="382.68" font-size="29.3" fill="#000" text-anchor="end" >0</text>
<text x="1108.3" y="468.45" font-size="29.3" fill="#000" text-anchor="end" >5</text>
<text x="1092" y="468.45" font-size="29.3" fill="#000" text-anchor="end" >−</text>
<text x="1120.5" y="527.8" font-size="29.3" fill="#000" text-anchor="middle" >5.0</text>
<text x="1100.2" y="527.8" font-size="29.3" fill="#000" text-anchor="end" >−</text>
<text x="1199.2" y="527.8" font-size="29.3" fill="#000" text-anchor="middle" >2.5</text>
<text x="1178.9" y="527.8" font-size="29.3" fill="#000" text-anchor="end" >−</text>
<text x="1277.9" y="527.8" font-size="29.3" fill="#000" text-anchor="middle" >0.0</text>
<text x="1356.6" y="527.8" font-size="29.3" fill="#000" text-anchor="middle" >2.5</text>
<text x="1435.3" y="527.8" font-size="29.3" fill="#000" text-anchor="middle" >5.0</text>
<text x="1271" y="570.5" font-size="29.1" text-anchor="middle"><tspan font-style="italic">H</tspan> (T)</text>
<text transform="translate(1046.4,261.6) rotate(-90)" font-size="29.1" text-anchor="middle">Magnetoresistance (%)</text>
<text x="1020.6" y="30.6" font-size="42" font-weight="bold">c</text>
<path d="M1120.6,99.3 C1130.83,99.15 1156.87,98.65 1182,98.4 C1207.13,98.15 1241.62,97.8 1271.4,97.8 C1301.18,97.8 1333.5,98.13 1360.7,98.4 C1387.9,98.67 1422.28,99.23 1434.6,99.4" fill="none" stroke="#FF8000" stroke-width="3.2" stroke-linejoin="round" stroke-linecap="butt" />
<path d="M1121,153.6 C1127.45,152.78 1145.82,150.15 1159.7,148.7 C1173.58,147.25 1189.42,145.83 1204.3,144.9 C1219.18,143.97 1235.58,143.48 1249,143.1 C1262.42,142.72 1273.63,142.42 1284.8,142.6 C1295.97,142.78 1303.35,143.38 1316,144.2 C1328.65,145.02 1345.8,146.27 1360.7,147.5 C1375.6,148.73 1393.08,150.5 1405.4,151.6 C1417.72,152.7 1429.73,153.68 1434.6,154.1" fill="none" stroke="#808000" stroke-width="3.3" stroke-linejoin="round" stroke-linecap="butt" />
<path d="M1120.8,224.17 C1121.47,224.01 1123.47,223.54 1124.8,223.23 C1126.13,222.91 1127.47,222.6 1128.8,222.28 C1130.13,221.97 1131.47,221.66 1132.8,221.34 C1134.13,221.03 1135.47,220.72 1136.8,220.4 C1138.13,220.09 1139.47,219.77 1140.8,219.46 C1142.13,219.15 1143.47,218.83 1144.8,218.52 C1146.13,218.2 1147.47,217.89 1148.8,217.57 C1150.13,217.25 1151.47,216.94 1152.8,216.62 C1154.13,216.3 1155.47,215.99 1156.8,215.67 C1158.13,215.35 1159.47,215.03 1160.8,214.71 C1162.13,214.39 1163.47,214.07 1164.8,213.75 C1166.13,213.43 1167.47,213.11 1168.8,212.79 C1170.13,212.46 1171.47,212.14 1172.8,211.81 C1174.13,211.49 1175.47,211.16 1176.8,210.83 C1178.13,210.51 1179.47,210.18 1180.8,209.85 C1182.13,209.52 1183.47,209.19 1184.8,208.86 C1186.13,208.52 1187.47,208.19 1188.8,207.85 C1190.13,207.52 1191.47,207.18 1192.8,206.84 C1194.13,206.51 1195.47,206.17 1196.8,205.82 C1198.13,205.48 1199.47,205.14 1200.8,204.79 C1202.13,204.45 1203.47,204.1 1204.8,203.75 C1206.13,203.4 1207.47,203.05 1208.8,202.7 C1210.13,202.35 1211.47,201.99 1212.8,201.64 C1214.13,201.28 1215.47,200.92 1216.8,200.56 C1218.13,200.2 1219.47,199.84 1220.8,199.47 C1222.13,199.1 1223.47,198.74 1224.8,198.37 C1226.13,198 1227.47,197.62 1228.8,197.25 C1230.13,196.87 1231.47,196.5 1232.8,196.12 C1234.13,195.74 1235.47,195.35 1236.8,194.97 C1238.13,194.58 1239.47,194.19 1240.8,193.8 C1242.13,193.41 1243.47,193.02 1244.8,192.62 C1246.13,192.22 1247.47,191.82 1248.8,191.42 C1250.13,191.02 1251.47,190.61 1252.8,190.2 C1254.13,189.79 1255.47,189.38 1256.8,188.97 C1258.13,188.55 1259.47,188.13 1260.8,187.71 C1262.13,187.29 1263.47,186.87 1264.8,186.44 C1266.13,186.01 1267.47,185.58 1268.8,185.14 C1270.13,184.71 1271.47,184.27 1272.8,183.82 C1274.13,183.38 1275.95,182.77 1276.8,182.49 C1277.65,182.2 1277.53,182.11 1277.9,182.11 C1278.27,182.11 1278.15,182.2 1279,182.49 C1279.85,182.77 1281.67,183.38 1283,183.82 C1284.33,184.27 1285.67,184.71 1287,185.14 C1288.33,185.58 1289.67,186.01 1291,186.44 C1292.33,186.87 1293.67,187.29 1295,187.71 C1296.33,188.13 1297.67,188.55 1299,188.97 C1300.33,189.38 1301.67,189.79 1303,190.2 C1304.33,190.61 1305.67,191.02 1307,191.42 C1308.33,191.82 1309.67,192.22 1311,192.62 C1312.33,193.02 1313.67,193.41 1315,193.8 C1316.33,194.19 1317.67,194.58 1319,194.97 C1320.33,195.35 1321.67,195.74 1323,196.12 C1324.33,196.5 1325.67,196.87 1327,197.25 C1328.33,197.62 1329.67,198 1331,198.37 C1332.33,198.74 1333.67,199.1 1335,199.47 C1336.33,199.84 1337.67,200.2 1339,200.56 C1340.33,200.92 1341.67,201.28 1343,201.64 C1344.33,201.99 1345.67,202.35 1347,202.7 C1348.33,203.05 1349.67,203.4 1351,203.75 C1352.33,204.1 1353.67,204.45 1355,204.79 C1356.33,205.14 1357.67,205.48 1359,205.82 C1360.33,206.17 1361.67,206.51 1363,206.84 C1364.33,207.18 1365.67,207.52 1367,207.85 C1368.33,208.19 1369.67,208.52 1371,208.86 C1372.33,209.19 1373.67,209.52 1375,209.85 C1376.33,210.18 1377.67,210.51 1379,210.83 C1380.33,211.16 1381.67,211.49 1383,211.81 C1384.33,212.14 1385.67,212.46 1387,212.79 C1388.33,213.11 1389.67,213.43 1391,213.75 C1392.33,214.07 1393.67,214.39 1395,214.71 C1396.33,215.03 1397.67,215.35 1399,215.67 C1400.33,215.99 1401.67,216.3 1403,216.62 C1404.33,216.94 1405.67,217.25 1407,217.57 C1408.33,217.89 1409.67,218.2 1411,218.52 C1412.33,218.83 1413.67,219.15 1415,219.46 C1416.33,219.77 1417.67,220.09 1419,220.4 C1420.33,220.72 1421.67,221.03 1423,221.34 C1424.33,221.66 1425.67,221.97 1427,222.28 C1428.33,222.6 1429.67,222.91 1431,223.23 C1432.33,223.54 1434.33,224.01 1435,224.17" fill="none" stroke="#FF00FF" stroke-width="3.3" stroke-linejoin="round" stroke-linecap="butt" />
<path d="M1120.8,274.28 C1121.47,274.12 1123.47,273.64 1124.8,273.33 C1126.13,273.01 1127.47,272.69 1128.8,272.37 C1130.13,272.06 1131.47,271.74 1132.8,271.42 C1134.13,271.11 1135.47,270.79 1136.8,270.47 C1138.13,270.16 1139.47,269.84 1140.8,269.53 C1142.13,269.21 1143.47,268.89 1144.8,268.58 C1146.13,268.26 1147.47,267.94 1148.8,267.63 C1150.13,267.31 1151.47,266.99 1152.8,266.68 C1154.13,266.36 1155.47,266.04 1156.8,265.72 C1158.13,265.4 1159.47,265.09 1160.8,264.77 C1162.13,264.45 1163.47,264.13 1164.8,263.81 C1166.13,263.49 1167.47,263.17 1168.8,262.84 C1170.13,262.52 1171.47,262.2 1172.8,261.88 C1174.13,261.55 1175.47,261.23 1176.8,260.91 C1178.13,260.58 1179.47,260.26 1180.8,259.93 C1182.13,259.6 1183.47,259.27 1184.8,258.94 C1186.13,258.62 1187.47,258.29 1188.8,257.95 C1190.13,257.62 1191.47,257.29 1192.8,256.96 C1194.13,256.62 1195.47,256.29 1196.8,255.95 C1198.13,255.62 1199.47,255.28 1200.8,254.94 C1202.13,254.6 1203.47,254.26 1204.8,253.92 C1206.13,253.57 1207.47,253.23 1208.8,252.88 C1210.13,252.54 1211.47,252.19 1212.8,251.84 C1214.13,251.49 1215.47,251.14 1216.8,250.79 C1218.13,250.43 1219.47,250.08 1220.8,249.72 C1222.13,249.37 1223.47,249.01 1224.8,248.65 C1226.13,248.29 1227.47,247.92 1228.8,247.56 C1230.13,247.19 1231.47,246.83 1232.8,246.46 C1234.13,246.09 1235.47,245.71 1236.8,245.34 C1238.13,244.97 1239.47,244.59 1240.8,244.21 C1242.13,243.83 1243.47,243.45 1244.8,243.06 C1246.13,242.68 1247.47,242.29 1248.8,241.9 C1250.13,241.51 1251.47,241.12 1252.8,240.73 C1254.13,240.33 1255.47,239.93 1256.8,239.53 C1258.13,239.13 1259.47,238.73 1260.8,238.32 C1262.13,237.92 1263.47,237.51 1264.8,237.09 C1266.13,236.68 1267.47,236.27 1268.8,235.85 C1270.13,235.43 1271.47,235.01 1272.8,234.58 C1274.13,234.16 1275.95,233.57 1276.8,233.3 C1277.65,233.02 1277.53,232.94 1277.9,232.94 C1278.27,232.94 1278.15,233.02 1279,233.3 C1279.85,233.57 1281.67,234.16 1283,234.58 C1284.33,235.01 1285.67,235.43 1287,235.85 C1288.33,236.27 1289.67,236.68 1291,237.09 C1292.33,237.51 1293.67,237.92 1295,238.32 C1296.33,238.73 1297.67,239.13 1299,239.53 C1300.33,239.93 1301.67,240.33 1303,240.73 C1304.33,241.12 1305.67,241.51 1307,241.9 C1308.33,242.29 1309.67,242.68 1311,243.06 C1312.33,243.45 1313.67,243.83 1315,244.21 C1316.33,244.59 1317.67,244.97 1319,245.34 C1320.33,245.71 1321.67,246.09 1323,246.46 C1324.33,246.83 1325.67,247.19 1327,247.56 C1328.33,247.92 1329.67,248.29 1331,248.65 C1332.33,249.01 1333.67,249.37 1335,249.72 C1336.33,250.08 1337.67,250.43 1339,250.79 C1340.33,251.14 1341.67,251.49 1343,251.84 C1344.33,252.19 1345.67,252.54 1347,252.88 C1348.33,253.23 1349.67,253.57 1351,253.92 C1352.33,254.26 1353.67,254.6 1355,254.94 C1356.33,255.28 1357.67,255.62 1359,255.95 C1360.33,256.29 1361.67,256.62 1363,256.96 C1364.33,257.29 1365.67,257.62 1367,257.95 C1368.33,258.29 1369.67,258.62 1371,258.94 C1372.33,259.27 1373.67,259.6 1375,259.93 C1376.33,260.26 1377.67,260.58 1379,260.91 C1380.33,261.23 1381.67,261.55 1383,261.88 C1384.33,262.2 1385.67,262.52 1387,262.84 C1388.33,263.17 1389.67,263.49 1391,263.81 C1392.33,264.13 1393.67,264.45 1395,264.77 C1396.33,265.09 1397.67,265.4 1399,265.72 C1400.33,266.04 1401.67,266.36 1403,266.68 C1404.33,266.99 1405.67,267.31 1407,267.63 C1408.33,267.94 1409.67,268.26 1411,268.58 C1412.33,268.89 1413.67,269.21 1415,269.53 C1416.33,269.84 1417.67,270.16 1419,270.47 C1420.33,270.79 1421.67,271.11 1423,271.42 C1424.33,271.74 1425.67,272.06 1427,272.37 C1428.33,272.69 1429.67,273.01 1431,273.33 C1432.33,273.64 1434.33,274.12 1435,274.28" fill="none" stroke="#00FFFF" stroke-width="3.3" stroke-linejoin="round" stroke-linecap="butt" />
<path d="M1120.8,318.8 C1124,318.13 1133.47,316.2 1140,314.8 C1146.53,313.4 1153.33,311.92 1160,310.4 C1166.67,308.88 1173.33,307.3 1180,305.7 C1186.67,304.1 1193.33,302.45 1200,300.8 C1206.67,299.15 1213.33,297.48 1220,295.8 C1226.67,294.12 1235,292.05 1240,290.7 C1245,289.35 1247.6,288.48 1250,287.7 C1252.4,286.92 1252.98,286.9 1254.4,286 C1255.82,285.1 1257.08,283.58 1258.5,282.3 C1259.92,281.02 1261.6,279.28 1262.9,278.3 C1264.2,277.32 1265.08,276.82 1266.3,276.4 C1267.52,275.98 1268.75,275.7 1270.2,275.8 C1271.65,275.9 1273.72,276.53 1275,277 C1276.28,277.47 1277.23,278.27 1277.9,278.6 C1278.57,278.93 1278.15,278.68 1279,278.97 C1279.85,279.26 1281.67,279.88 1283,280.33 C1284.33,280.78 1285.67,281.22 1287,281.66 C1288.33,282.1 1289.67,282.54 1291,282.97 C1292.33,283.4 1293.67,283.82 1295,284.25 C1296.33,284.67 1297.67,285.09 1299,285.5 C1300.33,285.91 1301.67,286.32 1303,286.73 C1304.33,287.13 1305.67,287.53 1307,287.93 C1308.33,288.33 1309.67,288.72 1311,289.11 C1312.33,289.5 1313.67,289.89 1315,290.27 C1316.33,290.65 1317.67,291.03 1319,291.41 C1320.33,291.78 1321.67,292.15 1323,292.52 C1324.33,292.89 1325.67,293.26 1327,293.62 C1328.33,293.98 1329.67,294.34 1331,294.7 C1332.33,295.05 1333.67,295.41 1335,295.76 C1336.33,296.11 1337.67,296.46 1339,296.8 C1340.33,297.15 1341.67,297.49 1343,297.83 C1344.33,298.17 1345.67,298.5 1347,298.84 C1348.33,299.17 1349.67,299.5 1351,299.83 C1352.33,300.16 1353.67,300.49 1355,300.82 C1356.33,301.14 1357.67,301.46 1359,301.79 C1360.33,302.11 1361.67,302.43 1363,302.74 C1364.33,303.06 1365.67,303.38 1367,303.69 C1368.33,304 1369.67,304.32 1371,304.63 C1372.33,304.94 1373.67,305.25 1375,305.55 C1376.33,305.86 1377.67,306.17 1379,306.47 C1380.33,306.78 1381.67,307.08 1383,307.38 C1384.33,307.68 1385.67,307.99 1387,308.29 C1388.33,308.59 1389.67,308.88 1391,309.18 C1392.33,309.48 1393.67,309.78 1395,310.08 C1396.33,310.37 1397.67,310.67 1399,310.96 C1400.33,311.26 1401.67,311.55 1403,311.85 C1404.33,312.14 1405.67,312.44 1407,312.73 C1408.33,313.03 1409.67,313.32 1411,313.61 C1412.33,313.91 1413.67,314.2 1415,314.49 C1416.33,314.79 1417.67,315.08 1419,315.37 C1420.33,315.67 1421.67,315.96 1423,316.25 C1424.33,316.55 1425.67,316.84 1427,317.14 C1428.33,317.43 1429.67,317.73 1431,318.02 C1432.33,318.32 1434.33,318.76 1435,318.91" fill="none" stroke="#0000FF" stroke-width="3.2" stroke-linejoin="round" stroke-linecap="butt" />
<path d="M1120.8,318.91 C1121.47,318.76 1123.47,318.32 1124.8,318.02 C1126.13,317.73 1127.47,317.43 1128.8,317.14 C1130.13,316.84 1131.47,316.55 1132.8,316.25 C1134.13,315.96 1135.47,315.67 1136.8,315.37 C1138.13,315.08 1139.47,314.79 1140.8,314.49 C1142.13,314.2 1143.47,313.91 1144.8,313.61 C1146.13,313.32 1147.47,313.03 1148.8,312.73 C1150.13,312.44 1151.47,312.14 1152.8,311.85 C1154.13,311.55 1155.47,311.26 1156.8,310.96 C1158.13,310.67 1159.47,310.37 1160.8,310.08 C1162.13,309.78 1163.47,309.48 1164.8,309.18 C1166.13,308.88 1167.47,308.59 1168.8,308.29 C1170.13,307.99 1171.47,307.68 1172.8,307.38 C1174.13,307.08 1175.47,306.78 1176.8,306.47 C1178.13,306.17 1179.47,305.86 1180.8,305.55 C1182.13,305.25 1183.47,304.94 1184.8,304.63 C1186.13,304.32 1187.47,304 1188.8,303.69 C1190.13,303.38 1191.47,303.06 1192.8,302.74 C1194.13,302.43 1195.47,302.11 1196.8,301.79 C1198.13,301.46 1199.47,301.14 1200.8,300.82 C1202.13,300.49 1203.47,300.16 1204.8,299.83 C1206.13,299.5 1207.47,299.17 1208.8,298.84 C1210.13,298.5 1211.47,298.17 1212.8,297.83 C1214.13,297.49 1215.47,297.15 1216.8,296.8 C1218.13,296.46 1219.47,296.11 1220.8,295.76 C1222.13,295.41 1223.47,295.05 1224.8,294.7 C1226.13,294.34 1227.47,293.98 1228.8,293.62 C1230.13,293.26 1231.47,292.89 1232.8,292.52 C1234.13,292.15 1235.47,291.78 1236.8,291.41 C1238.13,291.03 1239.47,290.65 1240.8,290.27 C1242.13,289.89 1243.47,289.5 1244.8,289.11 C1246.13,288.72 1247.47,288.33 1248.8,287.93 C1250.13,287.53 1251.47,287.13 1252.8,286.73 C1254.13,286.32 1255.47,285.91 1256.8,285.5 C1258.13,285.09 1259.47,284.67 1260.8,284.25 C1262.13,283.82 1263.47,283.4 1264.8,282.97 C1266.13,282.54 1267.47,282.1 1268.8,281.66 C1270.13,281.22 1271.47,280.78 1272.8,280.33 C1274.13,279.88 1275.95,279.26 1276.8,278.97 C1277.65,278.68 1277.23,278.93 1277.9,278.6 C1278.57,278.27 1279.52,277.47 1280.8,277 C1282.08,276.53 1284.15,275.9 1285.6,275.8 C1287.05,275.7 1288.28,275.98 1289.5,276.4 C1290.72,276.82 1291.6,277.32 1292.9,278.3 C1294.2,279.28 1295.88,281.02 1297.3,282.3 C1298.72,283.58 1299.98,285.1 1301.4,286 C1302.82,286.9 1303.4,286.92 1305.8,287.7 C1308.2,288.48 1310.8,289.35 1315.8,290.7 C1320.8,292.05 1329.13,294.12 1335.8,295.8 C1342.47,297.48 1349.13,299.15 1355.8,300.8 C1362.47,302.45 1369.13,304.1 1375.8,305.7 C1382.47,307.3 1389.13,308.88 1395.8,310.4 C1402.47,311.92 1409.27,313.4 1415.8,314.8 C1422.33,316.2 1431.8,318.13 1435,318.8" fill="none" stroke="#0000FF" stroke-width="3.2" stroke-linejoin="round" stroke-linecap="butt" />
<path d="M1120.8,375.7 C1123.78,374.72 1132.25,371.82 1138.7,369.8 C1145.15,367.78 1152.58,365.77 1159.5,363.6 C1166.42,361.43 1173.28,359.12 1180.2,356.8 C1187.12,354.48 1196.7,351.28 1201,349.7 C1205.3,348.12 1204.37,348.28 1206,347.3 C1207.63,346.32 1209.32,345.1 1210.8,343.8 C1212.28,342.5 1213.52,341.27 1214.9,339.5 C1216.28,337.73 1217.72,335.28 1219.1,333.2 C1220.48,331.12 1221.65,329.07 1223.2,327 C1224.75,324.93 1226.48,322.7 1228.4,320.8 C1230.32,318.9 1232.45,316.98 1234.7,315.6 C1236.95,314.22 1238.97,313.37 1241.9,312.5 C1244.83,311.63 1248.83,310.67 1252.3,310.4 C1255.77,310.13 1259.75,310.38 1262.7,310.9 C1265.65,311.42 1267.48,312.55 1270,313.5 C1272.52,314.45 1276.3,316.11 1277.8,316.6 C1279.3,317.09 1278.13,316.17 1279,316.46 C1279.87,316.75 1281.67,317.73 1283,318.36 C1284.33,318.99 1285.67,319.62 1287,320.24 C1288.33,320.87 1289.67,321.49 1291,322.11 C1292.33,322.72 1293.67,323.34 1295,323.95 C1296.33,324.56 1297.67,325.16 1299,325.76 C1300.33,326.37 1301.67,326.97 1303,327.56 C1304.33,328.16 1305.67,328.75 1307,329.34 C1308.33,329.93 1309.67,330.51 1311,331.09 C1312.33,331.67 1313.67,332.25 1315,332.83 C1316.33,333.4 1317.67,333.97 1319,334.54 C1320.33,335.1 1321.67,335.67 1323,336.23 C1324.33,336.79 1325.67,337.34 1327,337.9 C1328.33,338.45 1329.67,339 1331,339.54 C1332.33,340.09 1333.67,340.63 1335,341.16 C1336.33,341.7 1337.67,342.24 1339,342.77 C1340.33,343.3 1341.67,343.82 1343,344.34 C1344.33,344.87 1345.67,345.39 1347,345.9 C1348.33,346.42 1349.67,346.93 1351,347.43 C1352.33,347.94 1353.67,348.45 1355,348.95 C1356.33,349.44 1357.67,349.94 1359,350.43 C1360.33,350.93 1361.67,351.41 1363,351.9 C1364.33,352.38 1365.67,352.86 1367,353.34 C1368.33,353.82 1369.67,354.29 1371,354.76 C1372.33,355.23 1373.67,355.69 1375,356.15 C1376.33,356.62 1377.67,357.07 1379,357.53 C1380.33,357.98 1381.67,358.43 1383,358.88 C1384.33,359.32 1385.67,359.76 1387,360.2 C1388.33,360.64 1389.67,361.07 1391,361.5 C1392.33,361.93 1393.67,362.36 1395,362.78 C1396.33,363.2 1397.67,363.62 1399,364.03 C1400.33,364.45 1401.67,364.86 1403,365.26 C1404.33,365.67 1405.67,366.07 1407,366.47 C1408.33,366.86 1409.67,367.26 1411,367.65 C1412.33,368.04 1413.67,368.42 1415,368.8 C1416.33,369.19 1417.67,369.56 1419,369.94 C1420.33,370.31 1421.67,370.68 1423,371.04 C1424.33,371.41 1425.67,371.77 1427,372.13 C1428.33,372.48 1429.67,372.84 1431,373.18 C1432.33,373.53 1434.33,374.05 1435,374.22" fill="none" stroke="#800080" stroke-width="3.2" stroke-linejoin="round" stroke-linecap="butt" />
<path d="M1120.8,374.22 C1121.47,374.05 1123.47,373.53 1124.8,373.18 C1126.13,372.84 1127.47,372.48 1128.8,372.13 C1130.13,371.77 1131.47,371.41 1132.8,371.04 C1134.13,370.68 1135.47,370.31 1136.8,369.94 C1138.13,369.56 1139.47,369.19 1140.8,368.8 C1142.13,368.42 1143.47,368.04 1144.8,367.65 C1146.13,367.26 1147.47,366.86 1148.8,366.47 C1150.13,366.07 1151.47,365.67 1152.8,365.26 C1154.13,364.86 1155.47,364.45 1156.8,364.03 C1158.13,363.62 1159.47,363.2 1160.8,362.78 C1162.13,362.36 1163.47,361.93 1164.8,361.5 C1166.13,361.07 1167.47,360.64 1168.8,360.2 C1170.13,359.76 1171.47,359.32 1172.8,358.88 C1174.13,358.43 1175.47,357.98 1176.8,357.53 C1178.13,357.07 1179.47,356.62 1180.8,356.15 C1182.13,355.69 1183.47,355.23 1184.8,354.76 C1186.13,354.29 1187.47,353.82 1188.8,353.34 C1190.13,352.86 1191.47,352.38 1192.8,351.9 C1194.13,351.41 1195.47,350.93 1196.8,350.43 C1198.13,349.94 1199.47,349.44 1200.8,348.95 C1202.13,348.45 1203.47,347.94 1204.8,347.43 C1206.13,346.93 1207.47,346.42 1208.8,345.9 C1210.13,345.39 1211.47,344.87 1212.8,344.34 C1214.13,343.82 1215.47,343.3 1216.8,342.77 C1218.13,342.24 1219.47,341.7 1220.8,341.16 C1222.13,340.63 1223.47,340.09 1224.8,339.54 C1226.13,339 1227.47,338.45 1228.8,337.9 C1230.13,337.34 1231.47,336.79 1232.8,336.23 C1234.13,335.67 1235.47,335.1 1236.8,334.54 C1238.13,333.97 1239.47,333.4 1240.8,332.83 C1242.13,332.25 1243.47,331.67 1244.8,331.09 C1246.13,330.51 1247.47,329.93 1248.8,329.34 C1250.13,328.75 1251.47,328.16 1252.8,327.56 C1254.13,326.97 1255.47,326.37 1256.8,325.76 C1258.13,325.16 1259.47,324.56 1260.8,323.95 C1262.13,323.34 1263.47,322.72 1264.8,322.11 C1266.13,321.49 1267.47,320.87 1268.8,320.24 C1270.13,319.62 1271.47,318.99 1272.8,318.36 C1274.13,317.73 1275.93,316.75 1276.8,316.46 C1277.67,316.17 1276.5,317.09 1278,316.6 C1279.5,316.11 1283.28,314.45 1285.8,313.5 C1288.32,312.55 1290.15,311.42 1293.1,310.9 C1296.05,310.38 1300.03,310.13 1303.5,310.4 C1306.97,310.67 1310.97,311.63 1313.9,312.5 C1316.83,313.37 1318.85,314.22 1321.1,315.6 C1323.35,316.98 1325.48,318.9 1327.4,320.8 C1329.32,322.7 1331.05,324.93 1332.6,327 C1334.15,329.07 1335.32,331.12 1336.7,333.2 C1338.08,335.28 1339.52,337.73 1340.9,339.5 C1342.28,341.27 1343.52,342.5 1345,343.8 C1346.48,345.1 1348.17,346.32 1349.8,347.3 C1351.43,348.28 1350.5,348.12 1354.8,349.7 C1359.1,351.28 1368.68,354.48 1375.6,356.8 C1382.52,359.12 1389.38,361.43 1396.3,363.6 C1403.22,365.77 1410.65,367.78 1417.1,369.8 C1423.55,371.82 1432.02,374.72 1435,375.7" fill="none" stroke="#800080" stroke-width="3.2" stroke-linejoin="round" stroke-linecap="butt" />
<path d="M1120.8,442 C1124.65,440.65 1137.37,436.27 1143.9,433.9 C1150.43,431.53 1155.78,429.73 1160,427.8 C1164.22,425.87 1166.65,424.17 1169.2,422.3 C1171.75,420.43 1173.28,418.77 1175.3,416.6 C1177.32,414.43 1179.48,411.93 1181.3,409.3 C1183.12,406.67 1184.58,403.62 1186.2,400.8 C1187.82,397.98 1189.18,395.12 1191,392.4 C1192.82,389.68 1194.87,386.93 1197.1,384.5 C1199.33,382.07 1201.57,379.92 1204.4,377.8 C1207.23,375.68 1210.67,373.77 1214.1,371.8 C1217.53,369.83 1221.73,367.63 1225,366 C1228.27,364.37 1230.7,363 1233.7,362 C1236.7,361 1240.07,360.17 1243,360 C1245.93,359.83 1248.52,360.18 1251.3,361 C1254.08,361.82 1256.87,363.5 1259.7,364.9 C1262.53,366.3 1265.27,368 1268.3,369.4 C1271.33,370.8 1276.12,372.6 1277.9,373.3 C1279.68,374 1278.15,373.18 1279,373.58 C1279.85,373.98 1281.67,374.98 1283,375.67 C1284.33,376.37 1285.67,377.06 1287,377.75 C1288.33,378.44 1289.67,379.12 1291,379.8 C1292.33,380.48 1293.67,381.16 1295,381.83 C1296.33,382.51 1297.67,383.18 1299,383.84 C1300.33,384.51 1301.67,385.17 1303,385.83 C1304.33,386.49 1305.67,387.15 1307,387.8 C1308.33,388.46 1309.67,389.11 1311,389.75 C1312.33,390.4 1313.67,391.04 1315,391.68 C1316.33,392.32 1317.67,392.96 1319,393.59 C1320.33,394.22 1321.67,394.85 1323,395.48 C1324.33,396.1 1325.67,396.72 1327,397.34 C1328.33,397.96 1329.67,398.58 1331,399.19 C1332.33,399.8 1333.67,400.41 1335,401.01 C1336.33,401.62 1337.67,402.22 1339,402.82 C1340.33,403.41 1341.67,404.01 1343,404.6 C1344.33,405.19 1345.67,405.78 1347,406.36 C1348.33,406.94 1349.67,407.53 1351,408.1 C1352.33,408.68 1353.67,409.25 1355,409.82 C1356.33,410.39 1357.67,410.96 1359,411.52 C1360.33,412.08 1361.67,412.64 1363,413.2 C1364.33,413.76 1365.67,414.31 1367,414.86 C1368.33,415.41 1369.67,415.95 1371,416.49 C1372.33,417.04 1373.67,417.57 1375,418.11 C1376.33,418.64 1377.67,419.18 1379,419.7 C1380.33,420.23 1381.67,420.76 1383,421.28 C1384.33,421.8 1385.67,422.32 1387,422.83 C1388.33,423.34 1389.67,423.86 1391,424.36 C1392.33,424.87 1393.67,425.37 1395,425.87 C1396.33,426.37 1397.67,426.87 1399,427.36 C1400.33,427.86 1401.67,428.35 1403,428.83 C1404.33,429.32 1405.67,429.8 1407,430.28 C1408.33,430.76 1409.67,431.23 1411,431.71 C1412.33,432.18 1413.67,432.65 1415,433.11 C1416.33,433.58 1417.67,434.04 1419,434.49 C1420.33,434.95 1421.67,435.41 1423,435.86 C1424.33,436.31 1425.67,436.76 1427,437.2 C1428.33,437.64 1429.67,438.08 1431,438.52 C1432.33,438.96 1434.33,439.6 1435,439.82" fill="none" stroke="#000" stroke-width="3.6" stroke-linejoin="round" stroke-linecap="butt" />
<path d="M1120.8,439.82 C1121.47,439.6 1123.47,438.96 1124.8,438.52 C1126.13,438.08 1127.47,437.64 1128.8,437.2 C1130.13,436.76 1131.47,436.31 1132.8,435.86 C1134.13,435.41 1135.47,434.95 1136.8,434.49 C1138.13,434.04 1139.47,433.58 1140.8,433.11 C1142.13,432.65 1143.47,432.18 1144.8,431.71 C1146.13,431.23 1147.47,430.76 1148.8,430.28 C1150.13,429.8 1151.47,429.32 1152.8,428.83 C1154.13,428.35 1155.47,427.86 1156.8,427.36 C1158.13,426.87 1159.47,426.37 1160.8,425.87 C1162.13,425.37 1163.47,424.87 1164.8,424.36 C1166.13,423.86 1167.47,423.34 1168.8,422.83 C1170.13,422.32 1171.47,421.8 1172.8,421.28 C1174.13,420.76 1175.47,420.23 1176.8,419.7 C1178.13,419.18 1179.47,418.64 1180.8,418.11 C1182.13,417.57 1183.47,417.04 1184.8,416.49 C1186.13,415.95 1187.47,415.41 1188.8,414.86 C1190.13,414.31 1191.47,413.76 1192.8,413.2 C1194.13,412.64 1195.47,412.08 1196.8,411.52 C1198.13,410.96 1199.47,410.39 1200.8,409.82 C1202.13,409.25 1203.47,408.68 1204.8,408.1 C1206.13,407.53 1207.47,406.94 1208.8,406.36 C1210.13,405.78 1211.47,405.19 1212.8,404.6 C1214.13,404.01 1215.47,403.41 1216.8,402.82 C1218.13,402.22 1219.47,401.62 1220.8,401.01 C1222.13,400.41 1223.47,399.8 1224.8,399.19 C1226.13,398.58 1227.47,397.96 1228.8,397.34 C1230.13,396.72 1231.47,396.1 1232.8,395.48 C1234.13,394.85 1235.47,394.22 1236.8,393.59 C1238.13,392.96 1239.47,392.32 1240.8,391.68 C1242.13,391.04 1243.47,390.4 1244.8,389.75 C1246.13,389.11 1247.47,388.46 1248.8,387.8 C1250.13,387.15 1251.47,386.49 1252.8,385.83 C1254.13,385.17 1255.47,384.51 1256.8,383.84 C1258.13,383.18 1259.47,382.51 1260.8,381.83 C1262.13,381.16 1263.47,380.48 1264.8,379.8 C1266.13,379.12 1267.47,378.44 1268.8,377.75 C1270.13,377.06 1271.47,376.37 1272.8,375.67 C1274.13,374.98 1275.95,373.98 1276.8,373.58 C1277.65,373.18 1276.12,374 1277.9,373.3 C1279.68,372.6 1284.47,370.8 1287.5,369.4 C1290.53,368 1293.27,366.3 1296.1,364.9 C1298.93,363.5 1301.72,361.82 1304.5,361 C1307.28,360.18 1309.87,359.83 1312.8,360 C1315.73,360.17 1319.1,361 1322.1,362 C1325.1,363 1327.53,364.37 1330.8,366 C1334.07,367.63 1338.27,369.83 1341.7,371.8 C1345.13,373.77 1348.57,375.68 1351.4,377.8 C1354.23,379.92 1356.47,382.07 1358.7,384.5 C1360.93,386.93 1362.98,389.68 1364.8,392.4 C1366.62,395.12 1367.98,397.98 1369.6,400.8 C1371.22,403.62 1372.68,406.67 1374.5,409.3 C1376.32,411.93 1378.48,414.43 1380.5,416.6 C1382.52,418.77 1384.05,420.43 1386.6,422.3 C1389.15,424.17 1391.58,425.87 1395.8,427.8 C1400.02,429.73 1405.37,431.53 1411.9,433.9 C1418.43,436.27 1431.15,440.65 1435,442" fill="none" stroke="#000" stroke-width="3.6" stroke-linejoin="round" stroke-linecap="butt" />
<text x="1431.5" y="62.8" font-size="29.3" fill="#000" text-anchor="end" >BTO 9/3/10</text>
<text x="1431.2" y="127" font-size="25" fill="#FF8000" text-anchor="end" >200 K</text>
<text x="1431.2" y="180.6" font-size="25" fill="#808000" text-anchor="end" >150 K</text>
<text x="1431.2" y="250.2" font-size="25" fill="#FF00FF" text-anchor="end" >85 K</text>
<text x="1431.2" y="300" font-size="25" fill="#00FFFF" text-anchor="end" >60 K</text>
<text x="1431.2" y="345.9" font-size="25" fill="#0000FF" text-anchor="end" >50 K</text>
<text x="1431.2" y="401.8" font-size="25" fill="#800000" text-anchor="end" >15 K</text>
<text x="1431.2" y="468.3" font-size="25" fill="#000" text-anchor="end" >5 K</text></svg>
</body></html>
